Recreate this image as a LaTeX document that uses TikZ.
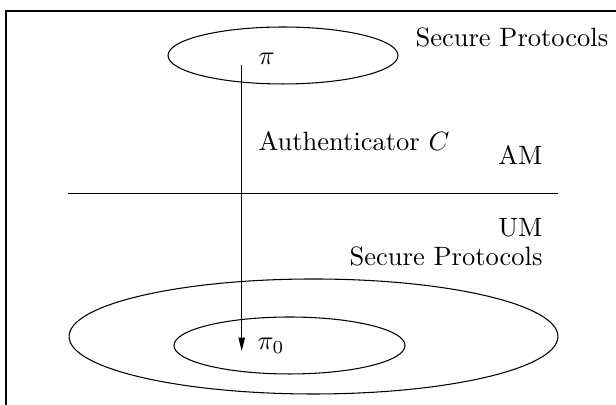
\documentclass[tikz,border=0pt]{standalone}
\usepackage{amsmath}
\usetikzlibrary{arrows.meta}
\usetikzlibrary{shapes.geometric}

\begin{document}
\begin{tikzpicture}[x=0.3774pt,y=-0.3774pt,every node/.style={inner sep=0pt},
  world/.style={draw,ellipse,line width=0.4pt}]
  \useasboundingbox (0,0) rectangle (616,405);
  \draw[line width=0.8pt](6,405) |- (616,11);

  % protocols in the two models
  \node[world,minimum width=86.8pt,minimum height=21.5pt] (amset) at (283,55.5){};
  \node[world,minimum width=184.5pt,minimum height=43.4pt] (umset) at (313.5,336.5){};
  \node[world,minimum width=87.2pt,minimum height=21.5pt] (umsub) at (289.5,345.5){};

  \node[anchor=base west] (amtext) at (415,47){Secure Protocols};
  \node[anchor=base west] (auth) at (258,151){Authenticator $C$};
  \node[anchor=base east] (am) at (543,165){AM};
  \node[anchor=base east] (um) at (543,236.7){UM};
  \node[anchor=base east] (umtext) at (543,266){Secure Protocols};

  \coordinate (l) at (68,193.3);
  \coordinate (r) at (558,193.3);
  \draw[line width=0.4pt](l)--(r);

  \coordinate (start) at (241.7,65);
  \coordinate (end) at (241.7,351);
  \node[anchor=base west] (pi) at (258,65){$\pi$};
  \node[anchor=base west] (pizero) at (257,350){$\pi_0$};
  \draw[line width=0.4pt,-{Triangle[length=5pt,width=2.4pt]}](start)--(end);
\end{tikzpicture}
\end{document}
